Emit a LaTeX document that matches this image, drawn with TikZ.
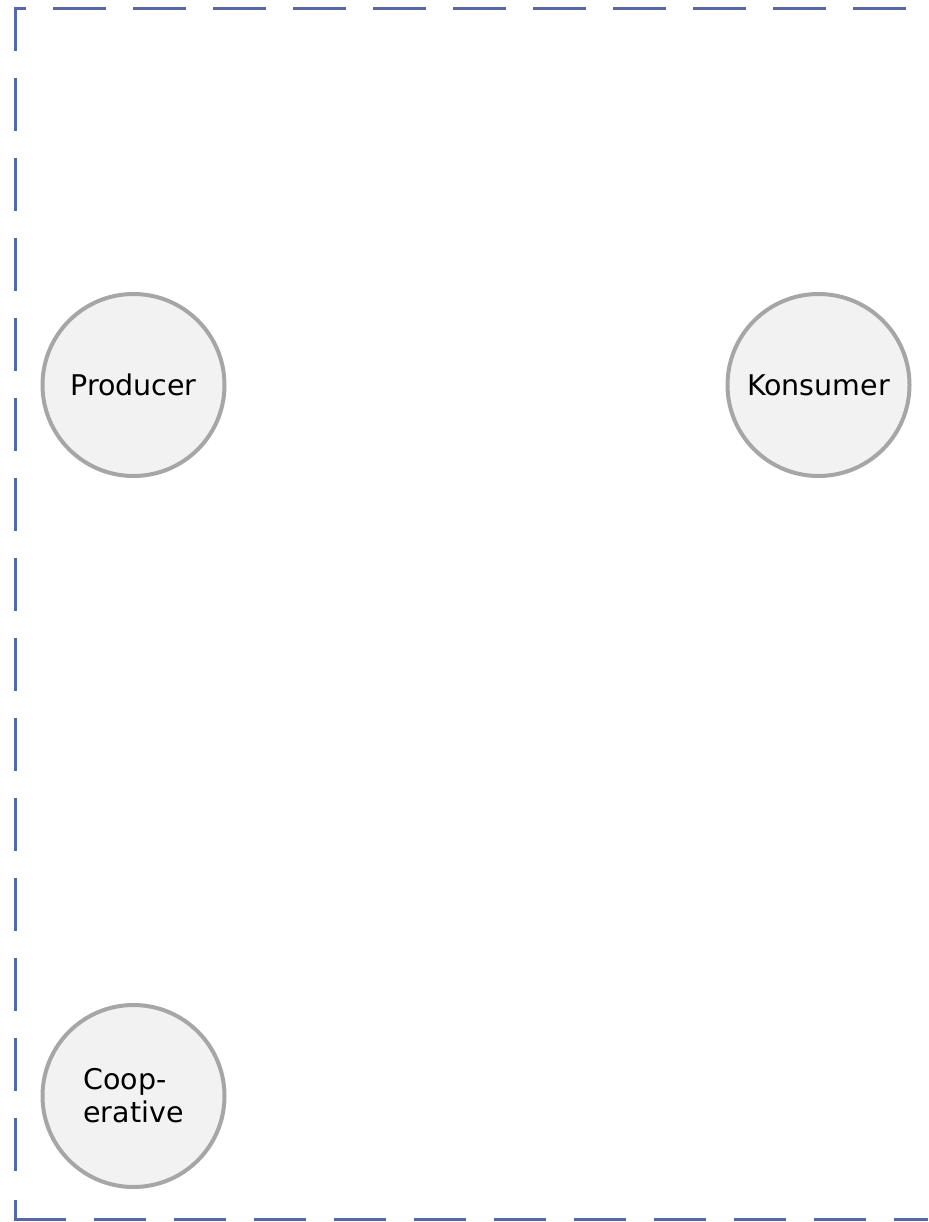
\documentclass[tikz,border=0pt]{standalone}
\usepackage{fontspec}
\setmainfont{DejaVu Sans}
\definecolor{framecol}{RGB}{86,104,170}
\definecolor{circgray}{RGB}{166,166,166}
\definecolor{circfill}{RGB}{242,242,242}
\begin{document}
\begin{tikzpicture}[x=1pt,y=-1pt,
  frameline/.style={line width=3pt, draw=framecol},
  ent/.style={circle, draw=circgray, fill=circfill, line width=4pt,
    minimum size=182pt, inner sep=0pt, text=black,
    font=\fontsize{28.5}{33}\selectfont}]
\useasboundingbox (0,0) rectangle (928,1222);
% dashed frame (top and left edges as one path)
\draw[frameline, dash pattern=on 53pt off 27pt, dash phase=58pt, line join=miter]
  (928,9) -- (15,9) -- (15,1195);
% bottom-left corner piece
\draw[frameline, line join=miter] (15,1200) -- (15,1219) -- (66,1219);
% bottom edge
\draw[frameline, dash pattern=on 52pt off 28pt] (94,1219) -- (928,1219);
% entities
\node[ent] (prod) at (133.5,385) {Producer};
\node[ent] (kons) at (818.5,385) {Konsumer};
\node[ent, align=left] (coop) at (133.5,1096) {Coop-\\erative};
\end{tikzpicture}
\end{document}
